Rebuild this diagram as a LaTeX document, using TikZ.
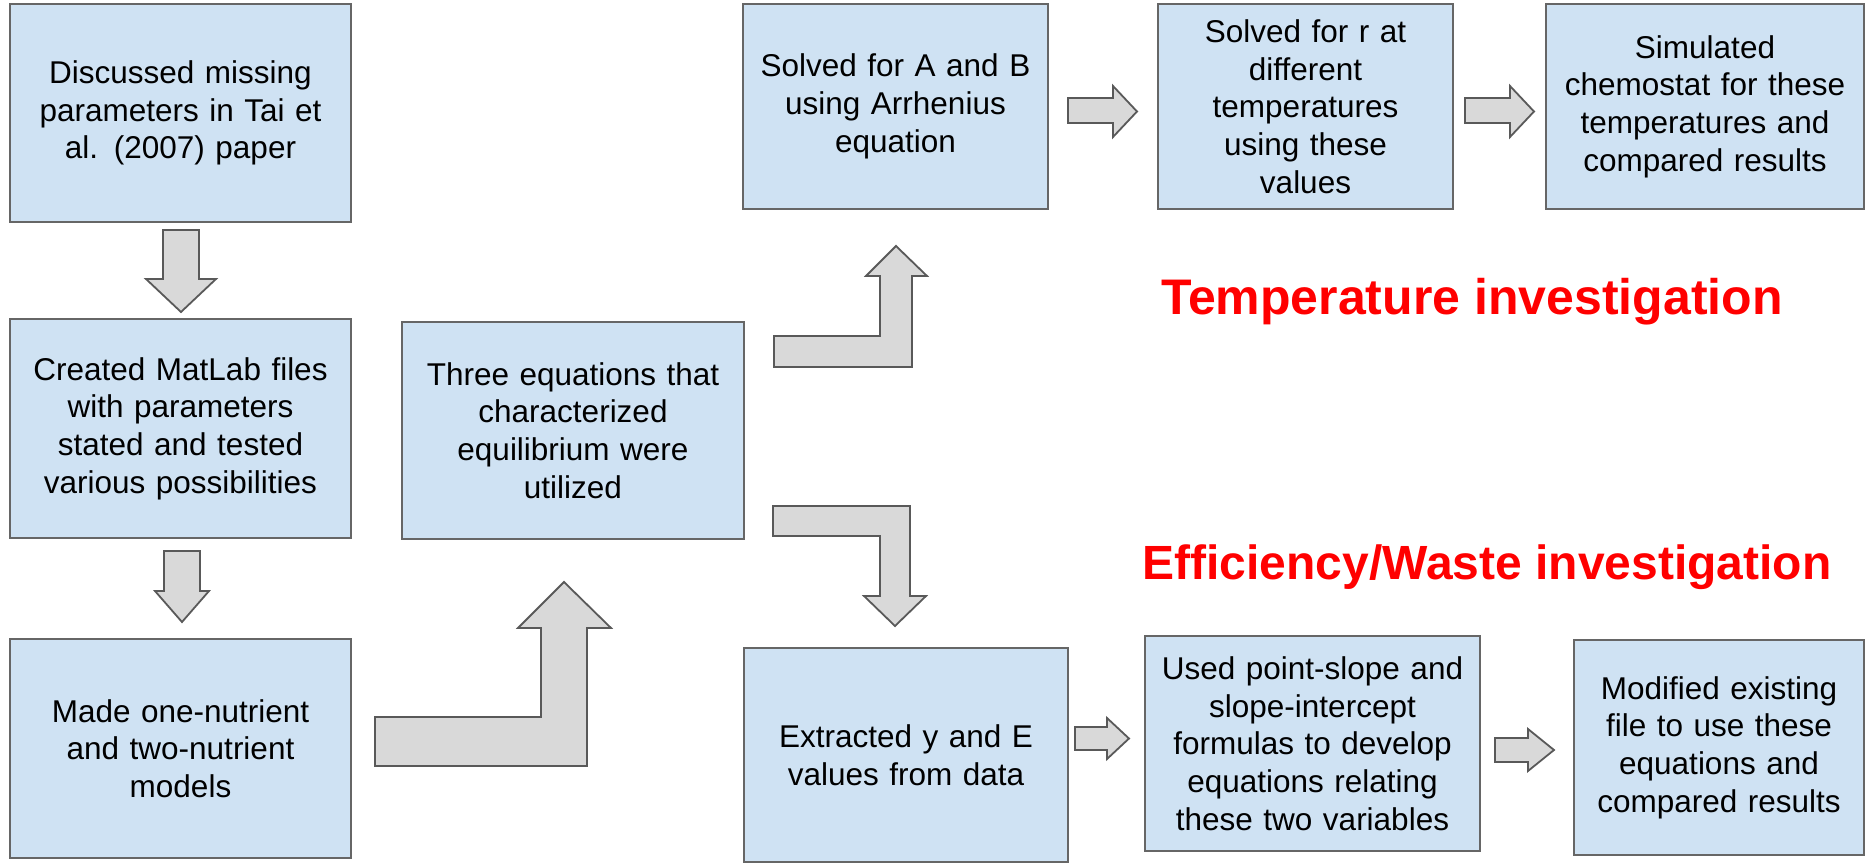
\documentclass[tikz,border=0pt]{standalone}
\usepackage{fontspec}
\setmainfont{Liberation Sans}
\definecolor{boxfill}{HTML}{CFE2F3}
\definecolor{boxborder}{HTML}{666666}
\definecolor{arrfill}{HTML}{D9D9D9}
\definecolor{arrborder}{HTML}{595959}
\definecolor{titlered}{HTML}{FF0000}
\tikzset{
  stepbox/.style={draw=boxborder, fill=boxfill, line width=2pt, inner sep=0pt,
    align=center, font=\fontsize{31.5}{37.7}\selectfont},
  blockarrow/.style={draw=arrborder, fill=arrfill, line width=1.8pt, line join=miter},
  titletext/.style={text=titlered, font=\fontsize{48}{56}\selectfont\bfseries, inner sep=0pt}
}
\begin{document}
\begin{tikzpicture}[x=1pt, y=-1pt]
\useasboundingbox (0,0) rectangle (1868,864);
% left column
\node[stepbox, minimum width=341, minimum height=218, text width=330] (b1) at (180.5,113)
  {Discussed missing\\parameters in Tai et\\al. (2007) paper};
\node[stepbox, minimum width=341, minimum height=219, text width=330] (b2) at (180.5,428.5)
  {Created MatLab files\\with parameters\\stated and tested\\various possibilities};
\node[stepbox, minimum width=341, minimum height=219, text width=330] (b3) at (180.5,748.5)
  {Made one-nutrient\\and two-nutrient\\models};
\node[stepbox, minimum width=342, minimum height=217, text width=330] (b4) at (573,430.5)
  {Three equations that\\characterized\\equilibrium were\\utilized};
% top row
\node[stepbox, minimum width=305, minimum height=205, text width=295] (b5) at (895.5,106.5)
  {Solved for A and B\\using Arrhenius\\equation};
\node[stepbox, minimum width=295, minimum height=205, text width=285] (b6) at (1305.5,106.5)
  {Solved for r at\\different\\temperatures\\using these\\values};
\node[stepbox, minimum width=318, minimum height=205, text width=305] (b7) at (1705,106.5)
  {Simulated\\chemostat for these\\temperatures and\\compared results};
% bottom row
\node[stepbox, minimum width=324, minimum height=214, text width=310] (b8) at (906,755)
  {Extracted y and E\\values from data};
\node[stepbox, minimum width=335, minimum height=215, text width=325] (b9) at (1312.5,743.5)
  {Used point-slope and\\slope-intercept\\formulas to develop\\equations relating\\these two variables};
\node[stepbox, minimum width=290, minimum height=215, text width=285] (b10) at (1719,747.5)
  {Modified existing\\file to use these\\equations and\\compared results};
% titles
\node[titletext, font=\fontsize{50}{58}\selectfont\bfseries] (t1) at (1472,302) {Temperature investigation};
\node[titletext] (t2) at (1487,567) {Efficiency/Waste investigation};
% down arrows
\draw[blockarrow] (163,230) -- (199,230) -- (199,279) -- (216,279) -- (181,312)
  -- (146,279) -- (163,279) -- cycle;
\draw[blockarrow] (164,551) -- (200,551) -- (200,591) -- (209,591) -- (182,622)
  -- (155,591) -- (164,591) -- cycle;
% bent arrow up to b4
\draw[blockarrow] (375,717) -- (541,717) -- (541,628) -- (518,628) -- (564,582)
  -- (611,628) -- (587,628) -- (587,766) -- (375,766) -- cycle;
% bent arrow up to b5
\draw[blockarrow] (774,336) -- (880,336) -- (880,276) -- (866,276) -- (896,246)
  -- (927,276) -- (912,276) -- (912,367) -- (774,367) -- cycle;
% bent arrow down to b8
\draw[blockarrow] (773,506) -- (910,506) -- (910,596) -- (926,596) -- (895,626)
  -- (864,596) -- (880,596) -- (880,536) -- (773,536) -- cycle;
% small right arrows top
\draw[blockarrow] (1068,98) -- (1113,98) -- (1113,86) -- (1137,111.5) -- (1113,137)
  -- (1113,123) -- (1068,123) -- cycle;
\draw[blockarrow] (1465,98) -- (1510,98) -- (1510,86) -- (1534,111.5) -- (1510,137)
  -- (1510,123) -- (1465,123) -- cycle;
% small right arrows bottom
\draw[blockarrow] (1075,727) -- (1107,727) -- (1107,718) -- (1129,738.5) -- (1107,759)
  -- (1107,750) -- (1075,750) -- cycle;
\draw[blockarrow] (1495,738) -- (1528,738) -- (1528,729) -- (1554,750) -- (1528,771)
  -- (1528,762) -- (1495,762) -- cycle;
\end{tikzpicture}
\end{document}
